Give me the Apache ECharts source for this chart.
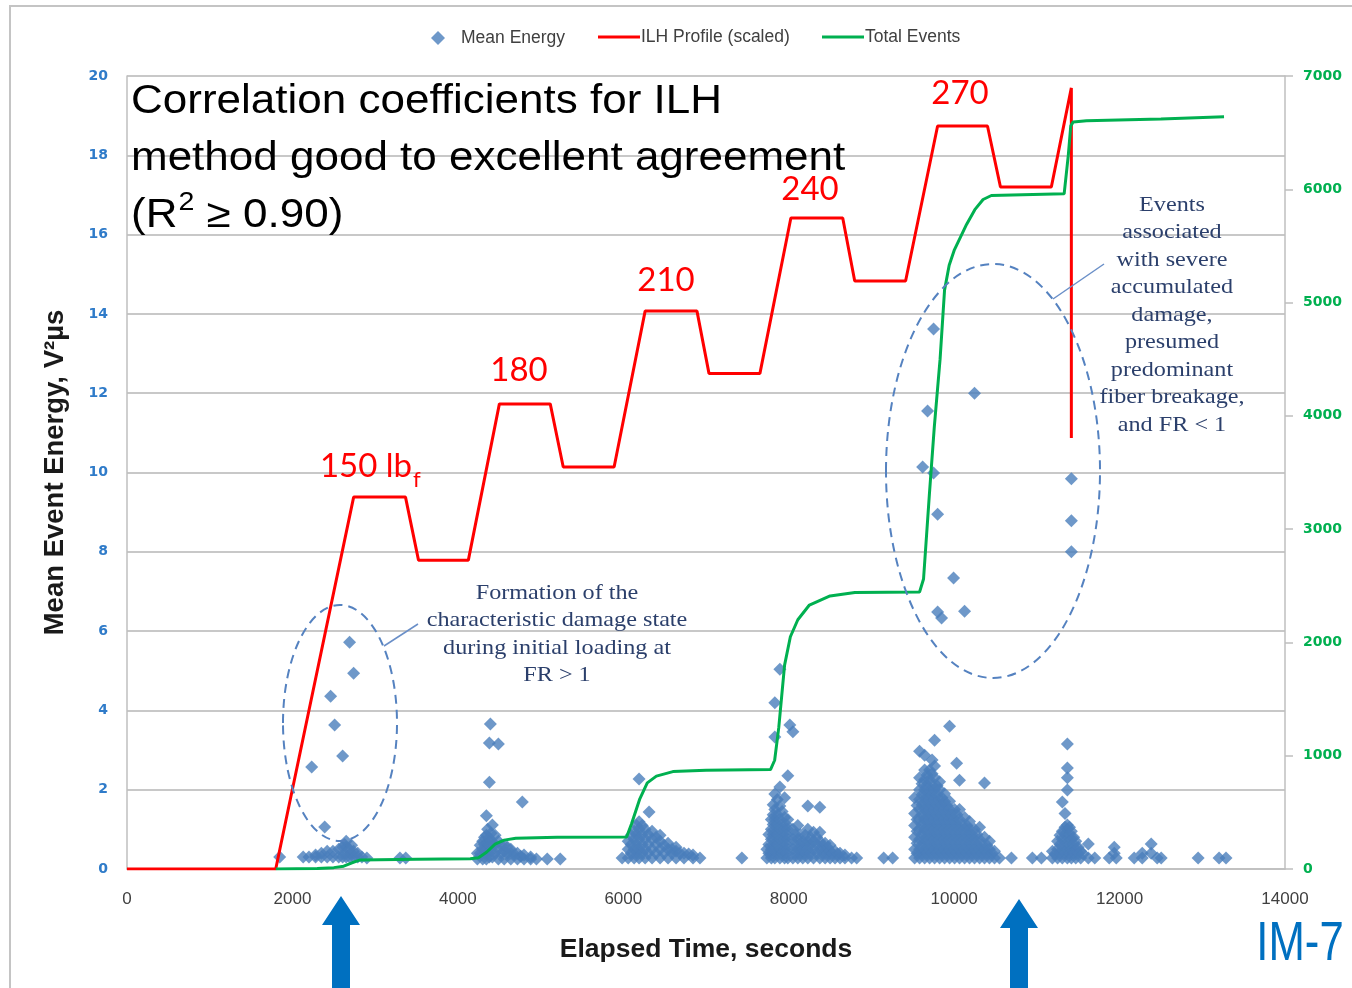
<!DOCTYPE html>
<html>
<head>
<meta charset="utf-8">
<script src="https://cdn.jsdelivr.net/npm/echarts@6/dist/echarts.min.js"></script>
<style>html,body{margin:0;padding:0;background:#fff;}#c{width:1352px;height:988px;}</style>
</head>
<body>
<div id="c"></div>
<script>
// ---- Data ----
const xTicks = [0, 2000, 4000, 6000, 8000, 10000, 12000, 14000];

// ILH Profile (scaled), left axis units
const ilhTime = [0, 1798, 2740, 3367, 3524, 4127, 4502, 5117, 5274, 5889, 6264, 6891, 7036, 7652, 8026, 8653, 8798, 9413, 9800, 10403, 10560, 11175, 11417, 11417];
const ilhLoad = [0, 0, 9.38, 9.38, 7.79, 7.79, 11.73, 11.73, 10.14, 10.14, 14.07, 14.07, 12.5, 12.5, 16.42, 16.42, 14.83, 14.83, 18.74, 18.74, 17.2, 17.2, 19.7, 10.87];

// Total Events, right axis units
const eventTime = [1800, 2300, 2500, 2620, 2720, 2820, 3500, 4150, 4250, 4350, 4450, 4560, 4700, 5200, 6040, 6100, 6200, 6290, 6400, 6600, 7000, 7780, 7830, 7880, 7950, 8020, 8110, 8250, 8500, 8800, 9582, 9630, 9700, 9760, 9830, 9884, 9940, 10000, 10065, 10150, 10250, 10350, 10450, 11330, 11380, 11410, 11440, 11600, 12500, 13263];
const eventTotal = [0, 5, 12, 25, 55, 80, 86, 90, 100, 150, 220, 255, 272, 280, 282, 400, 620, 760, 820, 860, 872, 878, 960, 1250, 1800, 2050, 2200, 2330, 2410, 2440, 2445, 2560, 3300, 3900, 4500, 5110, 5330, 5460, 5560, 5690, 5820, 5910, 5945, 5960, 6300, 6560, 6595, 6605, 6620, 6640];

// Mean Energy: [time, [energies at that time]]
const energyColumns = [
  [1846, [0.3]], [2130, [0.3]], [2200, [0.3]], [2233, [2.57]], [2280, [0.3, 0.35]], [2350, [0.3, 0.4]],
  [2390, [1.06]], [2420, [0.3, 0.45]], [2462, [4.36]], [2490, [0.3, 0.45]], [2510, [3.63]], [2560, [0.3, 0.5]],
  [2607, [0.3, 0.55, 2.85]], [2630, [0.4, 0.62]], [2650, [0.3, 0.55, 0.7]], [2691, [0.3, 0.5, 5.72]], [2715, [0.4, 0.6]],
  [2740, [0.3, 0.45, 4.94]], [2790, [0.3, 0.4]], [2840, [0.3]], [2900, [0.28]], [3300, [0.28]], [3370, [0.28]],

  [4236, [0.25, 0.4]], [4270, [0.4, 0.6]], [4300, [0.25, 0.5, 0.7]], [4322, [0.4, 0.62, 0.8]],
  [4345, [0.25, 0.5, 0.85, 1.34]], [4360, [0.4, 0.65, 1.0]], [4381, [0.3, 0.6, 0.78, 2.19, 3.18]],
  [4393, [3.66]], [4400, [0.45, 0.7, 0.9]], [4417, [0.3, 0.6, 1.11]], [4450, [0.4, 0.62, 0.85]],
  [4490, [0.25, 0.5, 0.7, 3.15]], [4525, [0.4, 0.6]], [4560, [0.25, 0.45, 0.6]], [4600, [0.4, 0.55]],
  [4640, [0.25, 0.4, 0.5]], [4680, [0.38]], [4720, [0.25, 0.4]], [4760, [0.32]], [4779, [1.69]], [4800, [0.25, 0.35]],
  [4880, [0.25, 0.3]], [4950, [0.25]], [5081, [0.25]], [5238, [0.25]],

  [5986, [0.28]], [6059, [0.28, 0.5, 0.7]], [6095, [0.4, 0.62, 0.85]], [6131, [0.28, 0.5, 0.75, 0.95]],
  [6161, [0.4, 0.62, 0.87, 1.1]], [6191, [0.28, 0.5, 0.75, 1.0, 1.19, 2.27]], [6228, [0.4, 0.62, 0.87, 1.1]],
  [6264, [0.28, 0.5, 0.75, 1.0]], [6300, [0.4, 0.62, 0.87]], [6312, [1.44]], [6348, [0.28, 0.5, 0.75, 0.95]],
  [6396, [0.4, 0.62, 0.8]], [6445, [0.28, 0.5, 0.7, 0.85]], [6493, [0.4, 0.6]], [6541, [0.28, 0.5, 0.65]],
  [6590, [0.4, 0.5]], [6638, [0.28, 0.45, 0.55]], [6686, [0.4]], [6734, [0.28, 0.4]], [6790, [0.38]],
  [6843, [0.28, 0.35]], [6927, [0.28]], [7434, [0.28]],

  [7736, [0.28, 0.5]], [7760, [0.4, 0.62, 0.87]], [7790, [0.28, 0.5, 0.75, 1.0, 1.25]],
  [7812, [0.4, 0.62, 0.87, 1.12, 1.37, 1.62]], [7832, [0.28, 0.5, 0.75, 1.0, 1.25, 1.5, 1.89, 3.33, 4.19]],
  [7862, [0.4, 0.62, 0.87, 1.12, 1.37, 1.75]], [7893, [0.28, 0.5, 0.75, 1.0, 1.25, 1.59, 2.07, 5.04]],
  [7920, [0.4, 0.62, 0.87, 1.12, 1.45]], [7950, [0.28, 0.5, 0.75, 1.0, 1.3, 1.8]], [7970, [0.4, 0.62, 0.87, 1.12]],
  [7989, [0.28, 0.5, 0.75, 1.0, 1.25, 2.35]], [8013, [3.63]], [8050, [0.28, 0.5, 0.75, 1.0, 3.46]],
  [8080, [0.4, 0.62, 0.87]], [8110, [0.28, 0.5, 0.75, 1.1]], [8140, [0.4, 0.62, 0.87]], [8170, [0.28, 0.5, 0.7]],
  [8200, [0.4, 0.62, 0.85]], [8231, [0.28, 0.5, 0.7, 1.0, 1.59]], [8265, [0.4, 0.62, 0.8]],
  [8300, [0.28, 0.5, 0.7, 0.93]], [8340, [0.4, 0.62, 0.8]], [8376, [0.28, 0.5, 0.7, 0.93, 1.56]],
  [8410, [0.4, 0.6]], [8440, [0.28, 0.5, 0.65]], [8470, [0.4, 0.55]], [8500, [0.28, 0.45, 0.6]], [8530, [0.4]],
  [8560, [0.28, 0.45]], [8590, [0.38]], [8620, [0.28, 0.4]], [8680, [0.28, 0.35]], [8760, [0.28]],
  [8822, [0.28]], [9148, [0.28]], [9256, [0.28]],

  [9522, [0.28, 0.5, 0.8, 1.1, 1.4, 1.8]], [9552, [0.4, 0.65, 0.95, 1.25, 1.6]],
  [9582, [0.28, 0.5, 0.75, 1.0, 1.25, 1.5, 1.75, 2.0, 2.3, 2.97]], [9612, [0.4, 0.62, 0.87, 1.12, 1.37, 1.62, 1.87, 2.15]],
  [9619, [10.14]], [9643, [0.28, 0.5, 0.75, 1.0, 1.25, 1.5, 1.75, 2.0, 2.25, 2.5, 2.87]],
  [9673, [0.4, 0.62, 0.87, 1.12, 1.37, 1.62, 1.87, 2.12, 2.37]], [9679, [11.55]],
  [9703, [0.28, 0.5, 0.75, 1.0, 1.25, 1.5, 1.75, 2.0, 2.25, 2.5]],
  [9733, [0.4, 0.62, 0.87, 1.12, 1.37, 1.62, 1.87, 2.12, 2.4, 2.75]], [9751, [9.99, 13.62]],
  [9763, [0.28, 0.5, 0.75, 1.0, 1.25, 1.5, 1.75, 2.0, 2.3, 2.6, 3.25]],
  [9794, [0.4, 0.62, 0.87, 1.12, 1.37, 1.62, 1.87, 2.1]], [9800, [6.48, 8.95]],
  [9824, [0.28, 0.5, 0.75, 1.0, 1.25, 1.5, 1.75, 2.0, 2.2]], [9848, [6.33]],
  [9854, [0.4, 0.62, 0.87, 1.12, 1.37, 1.62, 1.8]], [9884, [0.28, 0.5, 0.75, 1.0, 1.25, 1.5, 1.7, 1.9]],
  [9914, [0.4, 0.62, 0.87, 1.12, 1.37, 1.6]], [9945, [0.28, 0.5, 0.75, 1.0, 1.25, 1.5, 1.71, 3.6]],
  [9975, [0.4, 0.62, 0.87, 1.12, 1.37]], [9993, [7.34]], [10005, [0.28, 0.5, 0.75, 1.0, 1.25, 1.5]],
  [10030, [2.67]], [10035, [0.4, 0.62, 0.87, 1.12, 1.37]], [10065, [0.28, 0.5, 0.75, 1.0, 1.25, 1.5, 2.24]],
  [10096, [0.4, 0.62, 0.87, 1.12]], [10126, [0.28, 0.5, 0.75, 1.0, 1.3, 6.5]], [10156, [0.4, 0.62, 0.87, 1.1]],
  [10186, [0.28, 0.5, 0.75, 1.0, 1.2]], [10216, [0.4, 0.62, 0.87]], [10246, [0.28, 0.5, 0.75, 1.0, 12.0]],
  [10277, [0.4, 0.62, 0.87]], [10307, [0.28, 0.5, 0.75, 1.05]], [10337, [0.4, 0.62]],
  [10367, [0.28, 0.5, 0.8, 2.17]], [10397, [0.4, 0.6]], [10427, [0.28, 0.5, 0.7]], [10458, [0.4]],
  [10488, [0.28, 0.45]], [10548, [0.28]],

  [10693, [0.28]], [10946, [0.28]], [11055, [0.28]], [11188, [0.28, 0.45]], [11220, [0.38]],
  [11250, [0.28, 0.5, 0.7]], [11280, [0.4, 0.62, 0.85]], [11308, [0.28, 0.5, 0.75, 0.95, 1.69]],
  [11340, [0.4, 0.62, 0.87, 1.05, 1.4]], [11369, [0.28, 0.5, 0.75, 1.0, 1.11, 1.99, 2.3, 2.55, 3.15]],
  [11395, [0.4, 0.62, 0.87, 1.05]], [11417, [0.28, 0.5, 0.75, 0.95, 8.0, 8.78, 9.84]], [11445, [0.4, 0.62, 0.8]],
  [11470, [0.28, 0.5, 0.7]], [11500, [0.4, 0.55]], [11530, [0.28, 0.45]], [11560, [0.38]],
  [11622, [0.28, 0.63]], [11700, [0.28]], [11875, [0.28]], [11936, [0.4, 0.55]], [11960, [0.28]],
  [12177, [0.28]], [12274, [0.28, 0.4]], [12382, [0.4, 0.63]], [12455, [0.28]], [12503, [0.28]],
  [12950, [0.28]], [13203, [0.28]], [13287, [0.28]]
];

// ---- Build series data ----
const energyPoints = energyColumns.flatMap(([t, vs]) => vs.map(v => [t, v]));
const ilhPoints = ilhTime.map((t, i) => [t, ilhLoad[i]]);
const eventPoints = eventTime.map((t, i) => [t, eventTotal[i]]);

const chart = echarts.init(document.getElementById('c'), null, {renderer: 'canvas'});
const gridColor = '#C8C8C8';
const noteColor = '#2B3F6B';
const legendText = {fontFamily: 'Liberation Sans', fontSize: 17.5, color: '#404040'};
const plain = v => String(v);
const option = {
  animation: false,
  backgroundColor: '#fff',
  grid: {left: 127, right: 67, top: 76, bottom: 119, containLabel: false},
  legend: [
    {data: [{name: 'Mean Energy', icon: 'diamond'}], left: 431, top: 29, padding: 0, itemWidth: 14, itemHeight: 14,
     textStyle: Object.assign({padding: [0, 0, 0, 11]}, legendText)},
    {data: [{name: 'ILH Profile (scaled)', icon: 'rect'}], left: 598, top: 28, padding: 0, itemWidth: 42, itemHeight: 3,
     textStyle: Object.assign({padding: [0, 0, 0, -4]}, legendText)},
    {data: [{name: 'Total Events', icon: 'rect'}], left: 822, top: 28, padding: 0, itemWidth: 42, itemHeight: 3,
     textStyle: Object.assign({padding: [0, 0, 0, -4]}, legendText)}
  ],
  xAxis: {
    type: 'value', min: xTicks[0], max: xTicks[xTicks.length - 1], interval: 2000,
    axisLine: {show: true, lineStyle: {color: '#BFBFBF', width: 1.5}},
    axisTick: {show: false},
    splitLine: {show: false},
    axisLabel: {color: '#404040', fontSize: 17, fontFamily: 'Liberation Sans', margin: 22, formatter: plain},
    name: 'Elapsed Time, seconds', nameLocation: 'middle', nameGap: 67,
    nameTextStyle: {fontFamily: 'Liberation Sans', fontWeight: 'bold', fontSize: 26.5, color: '#1a1a1a'}
  },
  yAxis: [
    {
      type: 'value', min: 0, max: 20, interval: 2,
      axisLine: {show: true, lineStyle: {color: '#BFBFBF', width: 1.5}},
      axisTick: {show: false},
      splitLine: {show: true, lineStyle: {color: gridColor, width: 2}},
      axisLabel: {color: '#2F7BC9', fontWeight: 'bold', fontSize: 14, fontFamily: 'DejaVu Sans', margin: 19, formatter: plain},
      name: 'Mean Event Energy, V\u00B2\u00B5s', nameLocation: 'middle', nameGap: 58, nameRotate: 90,
      nameTextStyle: {fontFamily: 'Liberation Sans', fontWeight: 'bold', fontSize: 27.5, color: '#1a1a1a'}
    },
    {
      type: 'value', position: 'right', min: 0, max: 7000, interval: 1000,
      axisLine: {show: true, lineStyle: {color: '#BFBFBF', width: 1.5}},
      axisTick: {show: true, length: 8, lineStyle: {color: '#BFBFBF', width: 1.5}},
      splitLine: {show: false},
      axisLabel: {color: '#00B050', fontWeight: 'bold', fontSize: 14, fontFamily: 'DejaVu Sans', margin: 18, formatter: plain}
    }
  ],
  series: [
    {name: 'Mean Energy', type: 'scatter', symbol: 'diamond', symbolSize: 13, z: 2,
     itemStyle: {color: '#4A7EBB'}, data: energyPoints},
    {name: 'ILH Profile (scaled)', type: 'line', symbol: 'none', z: 3, yAxisIndex: 0,
     itemStyle: {color: '#FF0000'}, lineStyle: {color: '#FF0000', width: 3}, data: ilhPoints},
    {name: 'Total Events', type: 'line', symbol: 'none', z: 4, yAxisIndex: 1,
     itemStyle: {color: '#00B050'}, lineStyle: {color: '#00B050', width: 3}, data: eventPoints}
  ],
  graphic: [
    {type: 'polyline', shape: {points: [[10, 988], [10, 6], [1352, 6]]}, style: {stroke: '#C4C4C4', lineWidth: 2, fill: null}, z: 0},
    {type: 'text', x: 131, y: 73, scaleX: 1.1, z: 10, style: {
      text: 'Correlation coefficients for ILH\nmethod good to excellent agreement\n(R{s|2} \u2265 0.90)',
      font: '40px "Liberation Sans"', fill: '#000', lineHeight: 57,
      rich: {s: {font: '26px "Liberation Sans"', fill: '#000', verticalAlign: 'middle', padding: [0, 0, 26, 1]}}
    }},
    {type: 'text', x: 366, y: 466, z: 10, style: {text: '150 lb', font: '33px Lato', fill: '#FF0000', textAlign: 'center', textVerticalAlign: 'middle'}},
    {type: 'text', x: 413, y: 480, z: 10, style: {text: 'f', font: '22px Lato', fill: '#FF0000', textAlign: 'left', textVerticalAlign: 'middle'}},
    {type: 'text', x: 519, y: 370, z: 10, style: {text: '180', font: '33px Lato', fill: '#FF0000', textAlign: 'center', textVerticalAlign: 'middle'}},
    {type: 'text', x: 666, y: 280, z: 10, style: {text: '210', font: '33px Lato', fill: '#FF0000', textAlign: 'center', textVerticalAlign: 'middle'}},
    {type: 'text', x: 810, y: 189, z: 10, style: {text: '240', font: '33px Lato', fill: '#FF0000', textAlign: 'center', textVerticalAlign: 'middle'}},
    {type: 'text', x: 960, y: 93, z: 10, style: {text: '270', font: '33px Lato', fill: '#FF0000', textAlign: 'center', textVerticalAlign: 'middle'}},
    {type: 'ellipse', shape: {cx: 340, cy: 723, rx: 57, ry: 118}, z: 10,
     style: {fill: null, stroke: '#5582C0', lineWidth: 2, lineDash: [9, 6]}},
    {type: 'ellipse', shape: {cx: 993, cy: 471, rx: 107, ry: 207}, z: 10,
     style: {fill: null, stroke: '#5582C0', lineWidth: 2, lineDash: [9, 6]}},
    {type: 'line', shape: {x1: 384, y1: 646, x2: 418, y2: 624}, z: 10, style: {stroke: '#6A8FC8', lineWidth: 1.5}},
    {type: 'line', shape: {x1: 1053, y1: 299, x2: 1104, y2: 264}, z: 10, style: {stroke: '#6A8FC8', lineWidth: 1.5}},
    {type: 'text', x: 557, y: 579, scaleX: 1.1, z: 10, style: {
      text: 'Formation of the\ncharacteristic damage state\nduring initial loading at\nFR > 1',
      font: '22px "Liberation Serif"', fill: noteColor, textAlign: 'center', lineHeight: 27.6}},
    {type: 'text', x: 1172, y: 191, scaleX: 1.1, z: 10, style: {
      text: 'Events\nassociated\nwith severe\naccumulated\ndamage,\npresumed\npredominant\nfiber breakage,\nand FR < 1',
      font: '22px "Liberation Serif"', fill: noteColor, textAlign: 'center', lineHeight: 27.5}},
    {type: 'polygon', z: 10, shape: {points: [[341, 896], [360, 925], [350, 925], [350, 988], [332, 988], [332, 925], [322, 925]]}, style: {fill: '#0070C0'}},
    {type: 'polygon', z: 10, shape: {points: [[1019, 899], [1038, 928], [1028, 928], [1028, 988], [1010, 988], [1010, 928], [1000, 928]]}, style: {fill: '#0070C0'}},
    {type: 'text', x: 1300, y: 945, scaleX: 0.78, z: 10, style: {text: 'IM-7', font: '56px "Liberation Sans"', fill: '#0070C0', textAlign: 'center', textVerticalAlign: 'middle'}}
  ]
};
chart.setOption(option);
</script>
</body>
</html>
